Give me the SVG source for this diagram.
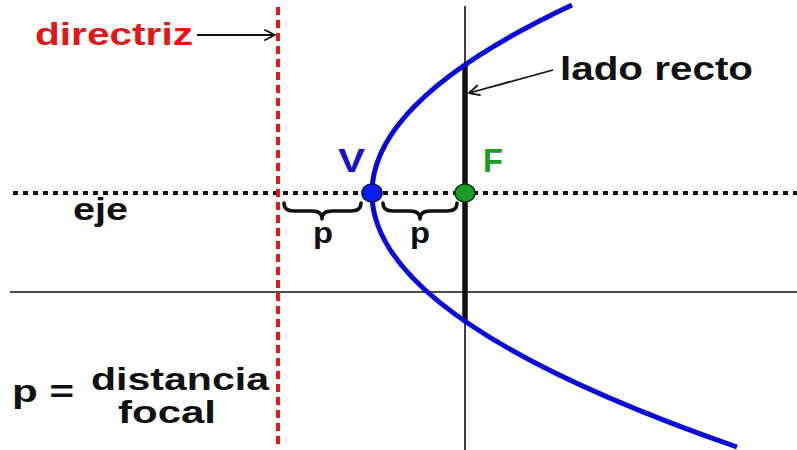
<svg xmlns="http://www.w3.org/2000/svg" width="797" height="450" viewBox="0 0 797 450">
<style>
.lbl{font-family:"Liberation Sans",Arial,sans-serif;font-weight:bold;}
.thin{stroke:#111;stroke-width:1.6;fill:none;}
.brace{stroke:#111;stroke-width:3.5;fill:none;stroke-linecap:round;stroke-linejoin:round;}
.conn{stroke:#111;stroke-width:1.8;fill:none;}
</style>
<defs>
<marker id="open-arrow" viewBox="0 0 12 12" refX="11" refY="6" markerWidth="12" markerHeight="12" orient="auto" markerUnits="userSpaceOnUse">
<path d="M1,1 L11,6 L1,11" fill="none" stroke="#111" stroke-width="1.8" stroke-linecap="round" stroke-linejoin="round"/>
</marker>
</defs>
<rect width="797" height="450" fill="#fff"/>
<g id="axes">
<line class="thin" x1="10" y1="292" x2="797" y2="292"/>
<line class="thin" x1="465" y1="6" x2="465" y2="450"/>
</g>
<g id="eje-axis">
<line x1="13" y1="193" x2="797" y2="193" stroke="#111" stroke-width="4" stroke-dasharray="5 5"/>
<text class="lbl" x="73" y="220" font-size="32" textLength="55" lengthAdjust="spacingAndGlyphs" fill="#111">eje</text>
</g>
<g id="directriz">
<line x1="278" y1="7" x2="278" y2="446" stroke="#e01818" stroke-width="4" stroke-dasharray="8 5"/>
<text class="lbl" x="35" y="45" font-size="32" textLength="158" lengthAdjust="spacingAndGlyphs" fill="#e01818">directriz</text>
</g>
<g id="lado-recto">
<line x1="465" y1="64" x2="465" y2="323" stroke="#111" stroke-width="5.5"/>
<text class="lbl" x="560" y="80" font-size="34" textLength="193" lengthAdjust="spacingAndGlyphs" fill="#111">lado recto</text>
</g>
<g id="parabola">
<path d="M572,5 Q101.7,226 737,447" fill="none" stroke="#0a0ad8" stroke-width="5"/>
</g>
<g id="vertex">
<ellipse cx="372" cy="193" rx="10" ry="9" fill="#0a1ef0" stroke="#08105a" stroke-width="1.5"/>
<text class="lbl" x="338" y="172" font-size="33" textLength="27" lengthAdjust="spacingAndGlyphs" fill="#1414c8">V</text>
</g>
<g id="focus">
<ellipse cx="465" cy="193" rx="10" ry="9" fill="#1e9a28" stroke="#0c3a10" stroke-width="1.5"/>
<text class="lbl" x="483" y="172" font-size="33" textLength="20" lengthAdjust="spacingAndGlyphs" fill="#1e9a28">F</text>
</g>
<g id="brace-1">
<path class="brace" d="M284,203 Q284,211 294,211 L312,211 Q322,211 322,219 Q322,211 332,211 L351,211 Q361,211 361,203"/>
<text class="lbl" x="313" y="243" font-size="29" textLength="20" lengthAdjust="spacingAndGlyphs" fill="#111">p</text>
</g>
<g id="brace-2">
<path class="brace" d="M383,203 Q383,211 393,211 L410,211 Q420,211 420,219 Q420,211 430,211 L447,211 Q457,211 457,203"/>
<text class="lbl" x="410" y="243" font-size="29" textLength="20" lengthAdjust="spacingAndGlyphs" fill="#111">p</text>
</g>
<g id="definition">
<text class="lbl" x="12" y="402" font-size="32" textLength="62" lengthAdjust="spacingAndGlyphs" fill="#111">p =</text>
<text class="lbl" x="91" y="390" font-size="32" textLength="178" lengthAdjust="spacingAndGlyphs" fill="#111">distancia</text>
<text class="lbl" x="118" y="423" font-size="32" textLength="98" lengthAdjust="spacingAndGlyphs" fill="#111">focal</text>
</g>
<g id="connectors">
<line class="conn" x1="197" y1="35" x2="275" y2="35" marker-end="url(#open-arrow)"/>
<line class="conn" x1="553" y1="70" x2="469" y2="93" marker-end="url(#open-arrow)"/>
</g>
</svg>
